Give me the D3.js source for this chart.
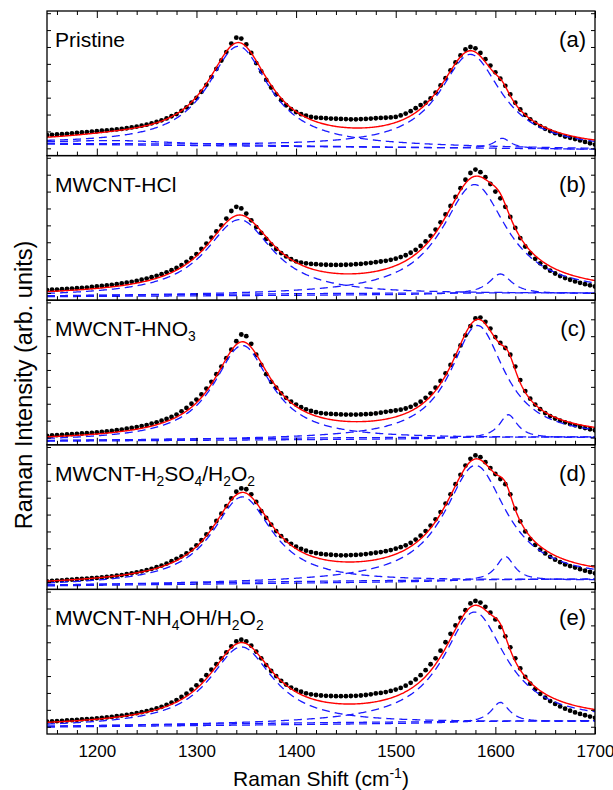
<!DOCTYPE html>
<html>
<head>
<meta charset="utf-8">
<script src="https://cdn.jsdelivr.net/npm/d3@7"></script>
<style>
body{margin:0;background:#fff}
text{font-family:"Liberation Sans",Arial,sans-serif}
</style>
</head>
<body>
<svg id="chart"></svg>
<script>
/* Raman shift of the measured points (cm-1) */
const shift = [
1150,1155,1160,1165,1170,1175,1180,1185,1190,1195,
1200,1205,1210,1215,1220,1225,1230,1235,1240,1245,
1250,1255,1260,1265,1270,1275,1280,1285,1290,1295,
1300,1305,1310,1315,1320,1325,1330,1335,1340,1345,
1350,1355,1360,1365,1370,1375,1380,1385,1390,1395,
1400,1405,1410,1415,1420,1425,1430,1435,1440,1445,
1450,1455,1460,1465,1470,1475,1480,1485,1490,1495,
1500,1505,1510,1515,1520,1525,1530,1535,1540,1545,
1550,1555,1560,1565,1570,1575,1580,1585,1590,1595,
1600,1605,1610,1615,1620,1625,1630,1635,1640,1645,
1650,1655,1660,1665,1670,1675,1680,1685,1690,1695,1700]

/* measured intensities (arb. units), one list per sample */
const pristine = [
.78,.80,.82,.84,.86,.89,.91,.94,.96,.99,
1.01,1.04,1.06,1.09,1.12,1.15,1.19,1.24,1.29,1.34,
1.40,1.48,1.56,1.66,1.77,1.90,2.03,2.22,2.43,2.70,
2.98,3.35,3.76,4.22,4.70,5.20,5.70,6.20,6.55,6.50,
6.15,5.65,5.05,4.55,4.05,3.60,3.20,2.85,2.55,2.32,
2.15,2.02,1.93,1.86,1.82,1.80,1.78,1.76,1.75,1.74,
1.73,1.72,1.72,1.73,1.74,1.76,1.78,1.80,1.81,1.83,
1.86,1.95,2.06,2.20,2.38,2.56,2.70,2.95,3.30,3.72,
4.15,4.62,5.08,5.50,5.85,6.00,5.92,5.65,5.28,4.90,
4.50,4.12,3.70,3.20,2.70,2.30,1.98,1.72,1.50,1.32,
1.16,1.02,.90,.80,.70,.62,.55,.47,.38,.30,.22]

const hcl = [
.17,.19,.20,.22,.24,.26,.28,.30,.32,.35,
.38,.41,.44,.48,.52,.56,.61,.66,.71,.78,
.85,.93,1.01,1.11,1.22,1.35,1.48,1.65,1.84,2.06,
2.30,2.60,2.92,3.28,3.64,4.00,4.40,4.85,5.10,5.00,
4.70,4.30,3.90,3.55,3.20,2.88,2.60,2.36,2.16,2.00,
1.87,1.80,1.75,1.72,1.70,1.68,1.67,1.66,1.66,1.66,
1.67,1.68,1.70,1.72,1.75,1.78,1.82,1.86,1.90,1.96,
2.03,2.12,2.23,2.38,2.55,2.78,3.05,3.38,3.75,4.18,
4.65,5.15,5.68,6.20,6.70,7.10,7.30,7.15,6.85,6.45,
6.00,5.60,5.10,4.50,3.85,3.25,2.75,2.35,2.02,1.75,
1.52,1.32,1.15,1.00,.88,.78,.68,.60,.52,.45,.38]

const hno3 = [
.10,.12,.14,.16,.18,.20,.22,.24,.26,.28,
.30,.33,.36,.39,.43,.47,.52,.57,.62,.68,
.74,.82,.90,1.00,1.10,1.22,1.36,1.55,1.75,2.00,
2.25,2.55,2.90,3.30,3.75,4.20,4.70,5.20,5.70,6.10,
6.00,5.55,4.90,4.30,3.75,3.30,2.95,2.62,2.35,2.12,
1.95,1.80,1.67,1.57,1.50,1.45,1.42,1.40,1.38,1.37,
1.36,1.36,1.36,1.37,1.38,1.40,1.43,1.47,1.52,1.56,
1.60,1.65,1.72,1.82,1.95,2.12,2.35,2.62,2.95,3.35,
3.80,4.30,4.85,5.45,6.05,6.60,7.05,7.10,6.85,6.45,
5.95,5.60,5.30,4.90,4.20,3.40,2.75,2.30,1.95,1.68,
1.45,1.27,1.12,1.00,.90,.80,.72,.64,.56,.49,.43]

const h2so4 = [
.05,.07,.09,.11,.13,.15,.17,.19,.21,.23,
.25,.28,.31,.34,.38,.42,.47,.52,.58,.64,
.71,.79,.88,.98,1.10,1.24,1.38,1.53,1.70,1.93,
2.18,2.48,2.82,3.20,3.62,4.05,4.50,4.95,5.35,5.55,
5.50,5.20,4.75,4.20,3.80,3.40,3.02,2.72,2.47,2.27,
2.10,1.97,1.86,1.78,1.72,1.67,1.64,1.62,1.60,1.59,
1.59,1.60,1.61,1.63,1.66,1.70,1.74,1.78,1.83,1.90,
1.98,2.07,2.18,2.33,2.52,2.75,3.02,3.35,3.72,4.15,
4.65,5.20,5.80,6.35,6.90,7.30,7.50,7.40,7.10,6.75,
6.40,6.10,5.80,5.20,4.35,3.60,3.00,2.55,2.20,1.92,
1.70,1.50,1.33,1.18,1.05,.95,.86,.77,.68,.60,.52]

const nh4oh = [
.30,.31,.33,.35,.37,.39,.41,.43,.45,.47,
.49,.52,.55,.58,.62,.66,.70,.75,.80,.86,
.92,1.00,1.08,1.18,1.30,1.43,1.58,1.76,1.96,2.20,
2.45,2.75,3.05,3.38,3.70,4.05,4.40,4.75,5.05,5.15,
5.05,4.80,4.45,4.05,3.65,3.30,3.00,2.72,2.50,2.32,
2.18,2.07,1.98,1.92,1.88,1.85,1.83,1.82,1.81,1.81,
1.81,1.82,1.83,1.85,1.88,1.92,1.97,2.00,2.05,2.12,
2.20,2.30,2.43,2.60,2.80,3.05,3.35,3.70,4.05,4.50,
5.00,5.50,6.00,6.45,6.90,7.30,7.45,7.35,7.10,6.75,
6.35,5.90,5.35,4.70,4.05,3.45,2.95,2.55,2.22,1.95,
1.72,1.52,1.35,1.20,1.07,.95,.85,.76,.68,.60,.53]

const sampleNames = ['Pristine','MWCNT-HCl','MWCNT-HNO_3','MWCNT-H_2SO_4/H_2O_2','MWCNT-NH_4OH/H_2O_2']
const panelLetters = ['(a)','(b)','(c)','(d)','(e)']

/* fitted Lorentzian bands, one entry per panel: [centre, height, half width] */
const bandD  = [[1342,5.9,38],[1343,4.5,41],[1346,5.6,35],[1346,5.14,37],[1345,4.63,39]]
const bandG  = [[1575,5.55,38],[1579,6.5,40],[1582,6.7,33],[1580,6.86,38],[1579,6.56,38]]
const bandD2 = [[1607,0.6,10],[1605,1.2,14],[1613,1.4,11],[1610,1.45,11],[1605,1.2,11]]
const bandWide = [[1220,0.25,80],[1450,0.1,300],[1450,0.1,300],[1450,0.1,300],[1450,0.1,300]]
/* linear background: value at 1150 and at 1700 */
const baseline = [[0.25,-0.06],[-0.22,-0.05],[-0.22,-0.02],[-0.22,0.13],[-0.02,0.3]]

const xTicks = [1200,1300,1400,1500,1600,1700]
const xMinor = [1160,1180,1220,1240,1260,1280,1320,1340,1360,1380,1420,1440,1460,1480,1520,1540,1560,1580,1620,1640,1660,1680]
const yTicks = [0,1,2,3,4,5,6,7,8]

const spectra = [pristine,hcl,hno3,h2so4,nh4oh]

const width=613, height=790
const plotLeft=47, plotRight=595, plotTop=11, plotBottom=734
const panelH=(plotBottom-plotTop)/5
const font='"Liberation Sans",Arial,sans-serif'

const svg = d3.select('#chart').attr('width',width).attr('height',height)

const xScale = d3.scaleLinear().domain([1150,1700]).range([plotLeft,plotRight])
const yScale = d3.scaleLinear().domain([-0.43,8.13]).range([panelH,0])

svg.append('defs').append('clipPath').attr('id','clip')
   .append('rect')
   .attr('x',plotLeft).attr('y',0)
   .attr('width',plotRight-plotLeft).attr('height',panelH)

const lorentz = (b,xv) => b[1]/(1+Math.pow((xv-b[0])/b[2],2))
const grid = d3.range(1150,1700.5,1)

const line = d3.line()
               .x(d => xScale(d[0]))
               .y(d => yScale(d[1]))

/* writes a label with chemical subscripts like H_2O */
const writeLabel = (sel,label,size) => {
    let shifted=false
    label.split(/(_\d)/).filter(p => p!=='').forEach(p => {
        if(p[0]==='_'){
            sel.append('tspan').attr('font-size',size*0.66).attr('dy',5).text(p.slice(1))
            shifted=true
        }else{
            sel.append('tspan').attr('font-size',size).attr('dy',shifted?-5:0).text(p)
            shifted=false
        }
    })
}

const styleAxis = (g) => {
    g.select('.domain').remove()
    g.selectAll('.tick line').attr('stroke','#000').attr('stroke-width',1)
    g.selectAll('text').attr('font-family',font).attr('font-size',17).attr('fill','#000')
}

spectra.forEach((values,i) => {
    const panel = svg.append('g').attr('transform','translate(0,'+(plotTop+i*panelH)+')')
    const plot = panel.append('g').attr('clip-path','url(#clip)')

    const base = xv => baseline[i][0]+(baseline[i][1]-baseline[i][0])*(xv-1150)/550
    const bands = [bandWide[i],bandD2[i],bandD[i],bandG[i]]

    /* measured points */
    plot.selectAll('circle')
        .data(shift)
        .enter()
        .append('circle')
        .attr('cx', d => xScale(d))
        .attr('cy', (d,j) => yScale(values[j]))
        .attr('r',2.4)
        .attr('fill','#000')

    /* fitted components */
    bands.forEach(b => {
        plot.append('path')
            .datum(grid.map(xv => [xv, base(xv)+lorentz(b,xv)]))
            .attr('d',line)
            .attr('fill','none')
            .attr('stroke','#1a1aff')
            .attr('stroke-width',1.3)
            .attr('stroke-dasharray','8,5')
    })

    /* sum of the fit */
    plot.append('path')
        .datum(grid.map(xv => [xv, base(xv)+d3.sum(bands, b => lorentz(b,xv))]))
        .attr('d',line)
        .attr('fill','none')
        .attr('stroke','#ff0000')
        .attr('stroke-width',1.4)

    /* frame */
    panel.append('rect')
         .attr('x',plotLeft).attr('y',0)
         .attr('width',plotRight-plotLeft).attr('height',panelH)
         .attr('fill','none')
         .attr('stroke','#000')
         .attr('stroke-width',1.3)

    /* ticks of the x axis, pointing inwards */
    panel.append('g')
         .attr('transform','translate(0,'+panelH+')')
         .call(d3.axisBottom(xScale).tickValues(xMinor).tickSize(-4).tickFormat(''))
         .call(styleAxis)
    panel.append('g')
         .attr('transform','translate(0,'+panelH+')')
         .call(d3.axisBottom(xScale).tickValues(xTicks).tickSize(-7).tickPadding(10.5)
               .tickFormat(i===4 ? d3.format('d') : ''))
         .call(styleAxis)

    if(i===0){
        panel.append('g')
             .call(d3.axisTop(xScale).tickValues(xMinor).tickSize(-4).tickFormat(''))
             .call(styleAxis)
        panel.append('g')
             .call(d3.axisTop(xScale).tickValues(xTicks).tickSize(-7).tickFormat(''))
             .call(styleAxis)
    }

    /* ticks of the y axis */
    panel.append('g')
         .attr('transform','translate('+plotLeft+',0)')
         .call(d3.axisLeft(yScale).tickValues(yTicks).tickSize(-4).tickFormat(''))
         .call(styleAxis)
    panel.append('g')
         .attr('transform','translate('+plotRight+',0)')
         .call(d3.axisRight(yScale).tickValues(yTicks).tickSize(-4).tickFormat(''))
         .call(styleAxis)

    /* sample name and panel letter */
    const name = panel.append('text')
                      .attr('x',55)
                      .attr('y',36)
                      .attr('font-family',font)
                      .attr('fill','#000')
    writeLabel(name,sampleNames[i],21)

    panel.append('text')
         .attr('x',586)
         .attr('y',36)
         .attr('text-anchor','end')
         .attr('font-family',font)
         .attr('font-size',22)
         .text(panelLetters[i])
})

/* axis titles */
const xTitle = svg.append('text')
                  .attr('x',(plotLeft+plotRight)/2)
                  .attr('y',786)
                  .attr('text-anchor','middle')
                  .attr('font-family',font)
                  .attr('font-size',21)
xTitle.append('tspan').text('Raman Shift (cm')
xTitle.append('tspan').attr('font-size',14).attr('dy',-8).text('-1')
xTitle.append('tspan').attr('dy',8).text(')')

svg.append('text')
   .attr('transform','rotate(-90)')
   .attr('x',-385)
   .attr('y',32)
   .attr('text-anchor','middle')
   .attr('font-family',font)
   .attr('font-size',23.5)
   .text('Raman Intensity (arb. units)')
</script>
</body>
</html>
